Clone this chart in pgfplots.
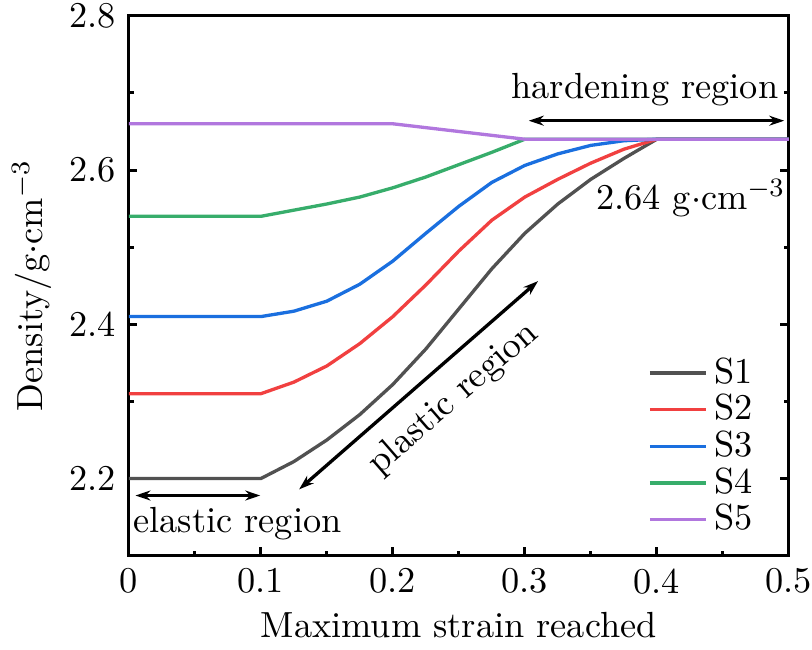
\documentclass[border=0pt,11pt]{standalone}
\usepackage{pgfplots}
\pgfplotsset{compat=1.18}
\usetikzlibrary{arrows.meta}

\definecolor{sgray}{RGB}{81,81,81}
\definecolor{sred}{RGB}{241,64,64}
\definecolor{sblue}{RGB}{26,111,223}
\definecolor{sgreen}{RGB}{55,173,107}
\definecolor{spurple}{RGB}{177,119,222}

\begin{document}
\begin{tikzpicture}
\begin{axis}[
    scale only axis,
    width=199pt, height=162.8pt,
    xmin=0, xmax=0.5,
    ymin=2.1, ymax=2.8,
    xtick={0,0.1,0.2,0.3,0.4,0.5},
    xticklabels={0,0.1,0.2,0.3,0.4,0.5},
    minor x tick num=1,
    ytick={2.2,2.4,2.6,2.8},
    yticklabels={2.2,2.4,2.6,2.8},
    minor y tick num=1,
    tick align=inside,
    xtick pos=bottom,
    ytick pos=both,
    major tick length=2.6pt,
    minor tick length=1.5pt,
    axis line style={line width=0.9pt},
    every tick/.style={line width=0.9pt, black},
    xticklabel style={inner xsep=0pt},
    yticklabel style={inner ysep=1pt},
    xlabel={Maximum strain reached},
    ylabel={Density/g$\cdot$cm$^{-3}$},
    xlabel style={yshift=2pt},
    ylabel style={yshift=-2pt},
    legend cell align=left,
    legend style={draw=none, fill=none, at={(0.972,0.012)}, anchor=south east,
        row sep=-2.3pt},
    every axis plot/.append style={line width=1pt},
]
\addplot[sgray] coordinates {
(0,2.2) (0.1,2.2) (0.125,2.222) (0.15,2.25) (0.175,2.283) (0.2,2.322)
(0.225,2.368) (0.25,2.42) (0.275,2.472) (0.3,2.518) (0.325,2.556)
(0.35,2.588) (0.375,2.615) (0.4,2.64) (0.5,2.64)};
\addlegendentry{S1}
\addplot[sred] coordinates {
(0,2.31) (0.1,2.31) (0.125,2.325) (0.15,2.346) (0.175,2.375) (0.2,2.41)
(0.225,2.451) (0.25,2.495) (0.275,2.535) (0.3,2.565) (0.325,2.588)
(0.35,2.609) (0.375,2.627) (0.4,2.64) (0.5,2.64)};
\addlegendentry{S2}
\addplot[sblue] coordinates {
(0,2.41) (0.1,2.41) (0.125,2.417) (0.15,2.43) (0.175,2.452) (0.2,2.482)
(0.225,2.518) (0.25,2.553) (0.275,2.584) (0.3,2.606) (0.325,2.621)
(0.35,2.632) (0.375,2.638) (0.4,2.64) (0.5,2.64)};
\addlegendentry{S3}
\addplot[sgreen] coordinates {
(0,2.54) (0.1,2.54) (0.125,2.548) (0.15,2.556) (0.175,2.565) (0.2,2.577)
(0.225,2.591) (0.25,2.607) (0.275,2.623) (0.3,2.64) (0.5,2.64)};
\addlegendentry{S4}
\addplot[spurple] coordinates {
(0,2.66) (0.2,2.66) (0.3,2.64) (0.5,2.64)};
\addlegendentry{S5}

% annotations
\draw[{Stealth[length=4.5pt,width=3pt]}-{Stealth[length=4.5pt,width=3pt]}, line width=1pt]
    (axis cs:0.005,2.178) -- (axis cs:0.0995,2.178);
\node[anchor=base west, inner sep=0pt] at (axis cs:0.003,2.13) {elastic region};
\draw[{Stealth[length=4.5pt,width=3pt]}-{Stealth[length=4.5pt,width=3pt]}, line width=1pt]
    (axis cs:0.129,2.186) -- (axis cs:0.31,2.456);
\node[rotate=41] at (axis cs:0.246,2.303) {plastic region};
\draw[{Stealth[length=4.5pt,width=3pt]}-{Stealth[length=4.5pt,width=3pt]}, line width=1pt]
    (axis cs:0.303,2.664) -- (axis cs:0.4965,2.664);
\node at (axis cs:0.391,2.704) {hardening region};
\node at (axis cs:0.4257,2.564) {2.64 g$\cdot$cm$^{-3}$};
\end{axis}
\end{tikzpicture}
\end{document}
